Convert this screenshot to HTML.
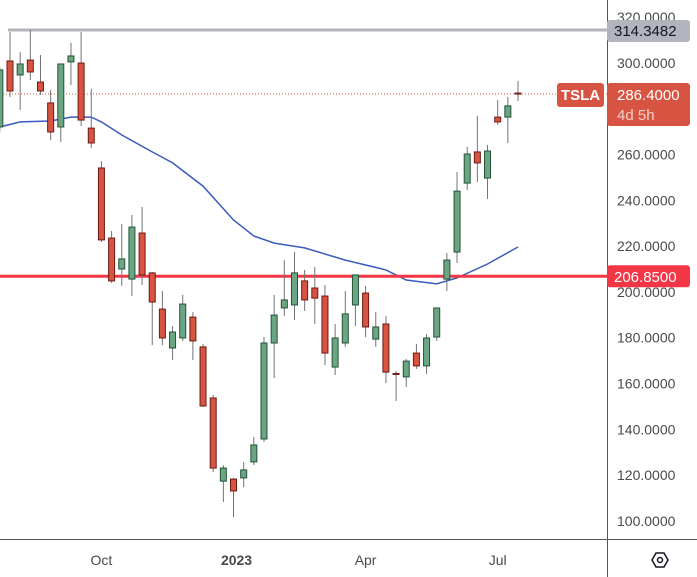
<!DOCTYPE html>
<html><head><meta charset="utf-8"><style>
body{margin:0;background:#fff;}
svg{display:block;font-family:"Liberation Sans","DejaVu Sans",sans-serif;}
</style></head><body>
<svg id="chart" width="697" height="577" viewBox="0 0 697 577" xmlns="http://www.w3.org/2000/svg">
<rect width="697" height="577" fill="#fff"/>
<g id="ma-layer"></g>
<g id="hlines"></g>
<g id="candles"></g>
<g id="axis"></g>
</svg>
<script>
const opens  = [272.0,300.8,294.7,301.2,291.6,282.5,272.0,300.4,299.9,271.5,254.1,223.5,210.0,205.6,225.7,208.3,192.5,175.5,179.9,189.0,176.0,153.7,117.4,118.3,118.8,125.8,135.8,177.7,193.0,194.3,204.8,201.7,198.2,167.2,177.7,194.3,199.5,179.4,186.0,164.4,162.9,173.3,167.7,180.3,205.6,217.4,247.5,261.1,249.7,276.3,276.3,286.8];
const highs  = [298.0,313.5,304.7,314.3,303.4,288.1,299.5,308.7,313.5,288.6,257.1,226.6,229.6,233.6,237.1,208.7,200.4,185.1,198.7,191.2,177.3,155.0,124.4,118.8,125.8,136.7,180.3,198.7,213.9,217.4,209.6,210.9,203.0,186.0,200.4,207.4,202.6,191.2,189.5,165.5,170.7,177.3,181.6,193.0,217.0,252.3,263.3,276.8,264.1,283.8,285.1,292.1];
const lows   = [270.0,285.1,279.4,292.5,286.0,266.3,265.4,290.3,272.4,262.8,221.8,203.9,202.6,198.2,203.0,176.8,176.8,170.3,178.6,170.3,149.8,121.4,108.3,101.7,114.8,124.4,134.5,162.4,189.5,187.7,191.7,186.0,168.1,163.7,176.0,185.1,180.3,176.0,160.2,152.4,158.5,166.4,164.2,178.6,200.4,212.6,244.5,248.0,240.6,272.9,265.0,283.3];
const closes = [296.9,287.7,299.5,296.0,287.7,269.8,299.5,303.0,275.0,265.0,222.7,204.8,214.4,228.3,207.4,195.6,179.9,182.5,194.7,178.6,150.2,123.1,123.1,113.1,122.3,133.2,177.7,189.9,196.5,208.3,196.5,197.3,173.3,179.9,190.4,207.4,184.7,184.7,165.0,164.0,169.8,167.7,179.9,193.0,213.9,244.0,260.2,256.3,261.5,274.2,281.2,286.4];
const maIdx = [0,2,5,7,9,10,12,15,17,20,23,25,27,30,34,38,40,43,45,48,51];
const maVal = [272.0,274.2,274.6,276.3,276.3,274.2,268.5,261.1,256.3,246.2,231.4,224.4,221.3,219.2,213.9,209.6,205.2,203.5,206.1,212.2,219.6];
const yTicks = [320,300,280,260,240,220,200,180,160,140,120,100];
const xLabels = ["Oct","2023","Apr","Jul"];
const xLabelIdx = [10,23,36,49];
const resistance = 314.3482, support = 206.85, lastPrice = 286.4;

const NS="http://www.w3.org/2000/svg";
function y(v){return 17+(320-v)*2.2909;}
function x(i){return 10+(i-1)*10.16;}
function mk(tag,attrs,parent){const e=document.createElementNS(NS,tag);for(const k in attrs)e.setAttribute(k,attrs[k]);parent.appendChild(e);return e;}
const gC=document.getElementById('candles'),gH=document.getElementById('hlines'),gM=document.getElementById('ma-layer'),gA=document.getElementById('axis');

let d='';
for(let k=0;k<maIdx.length;k++){d+=(k?'L':'M')+x(maIdx[k]).toFixed(1)+' '+y(maVal[k]).toFixed(1);}
const ma=mk('path',{d:d,fill:'none',stroke:'#3a5bbf','stroke-width':1.5},gM);



const rl=mk('line',{x1:8,x2:607,y1:y(resistance),y2:y(resistance),stroke:'#b2b5be','stroke-width':3},gH);


const sl=mk('line',{x1:0,x2:607,y1:y(support),y2:y(support),stroke:'#f23645','stroke-width':3},gH);


const pl=mk('line',{x1:0,x2:607,y1:y(lastPrice),y2:y(lastPrice),stroke:'#d75442','stroke-width':1,'stroke-dasharray':'1 2'},gH);



for(let i=0;i<opens.length;i++){
  const up=closes[i]>=opens[i];
  const cx=x(i);
  const g=mk('g',{},gC);
  
  
  mk('line',{x1:cx,x2:cx,y1:y(highs[i]),y2:y(lows[i]),stroke:'#737375','stroke-width':1},g);
  const top=y(Math.max(opens[i],closes[i])),bot=y(Math.min(opens[i],closes[i]));
  mk('rect',{x:cx-3,y:top,width:6,height:Math.max(1,bot-top),fill:up?'#6ba583':'#d75442',stroke:up?'#225437':'#6f1a13','stroke-width':1},g);
}

mk('rect',{x:607,y:0,width:90,height:577,fill:'#fff'},gA);
mk('rect',{x:0,y:539,width:697,height:38,fill:'#fff'},gA);
mk('line',{x1:607.5,x2:607.5,y1:0,y2:577,stroke:'#555','stroke-width':1},gA);
mk('line',{x1:0,x2:697,y1:539.5,y2:539.5,stroke:'#555','stroke-width':1},gA);
for(const v of yTicks){
  const t=mk('text',{x:617,y:y(v)+5,'font-size':14,fill:'#4a4a4a'},gA);
  t.textContent=v.toFixed(4);
  
  
}
for(let k=0;k<xLabels.length;k++){
  const t=mk('text',{x:x(xLabelIdx[k])+(k==1?3:0),y:565,'font-size':14,fill:'#4a4a4a','text-anchor':'middle','font-weight':k==1?'bold':'normal'},gA);
  t.textContent=xLabels[k];
  
  
}
const rb=mk('g',{},gA);


mk('rect',{x:607,y:y(resistance)-10,width:83,height:22,rx:3,fill:'#b2b5be'},rb);
mk('text',{x:614,y:y(resistance)+6,'font-size':15,fill:'#131722'},rb).textContent=resistance.toFixed(4);
const sb=mk('g',{},gA);


mk('rect',{x:607,y:y(support)-11,width:83,height:22,rx:3,fill:'#f23645'},sb);
mk('text',{x:614,y:y(support)+6,'font-size':15,fill:'#fff'},sb).textContent=support.toFixed(4);
const lb=mk('g',{},gA);


mk('rect',{x:607,y:y(lastPrice)-11,width:83,height:43,rx:3,fill:'#d75442'},lb);
mk('text',{x:617,y:y(lastPrice)+6,'font-size':15,fill:'#fff'},lb).textContent=lastPrice.toFixed(4);
mk('text',{x:617,y:y(lastPrice)+26,'font-size':15,fill:'#f5d0c8'},lb).textContent='4d 5h';
const tb=mk('g',{},gA);


mk('rect',{x:557,y:y(lastPrice)-11,width:47,height:24,rx:3,fill:'#d75442'},tb);
mk('text',{x:580.5,y:y(lastPrice)+6,'font-size':15,fill:'#fff','text-anchor':'middle','font-weight':'bold'},tb).textContent='TSLA';
const gi=mk('g',{},gA);


mk('polygon',{points:'652,560 656,553 664,553 668,560 664,567 656,567',fill:'none',stroke:'#131722','stroke-width':1.5},gi);
mk('circle',{cx:660,cy:560,r:2.5,fill:'none',stroke:'#131722','stroke-width':1.5},gi);
</script>
</body></html>
